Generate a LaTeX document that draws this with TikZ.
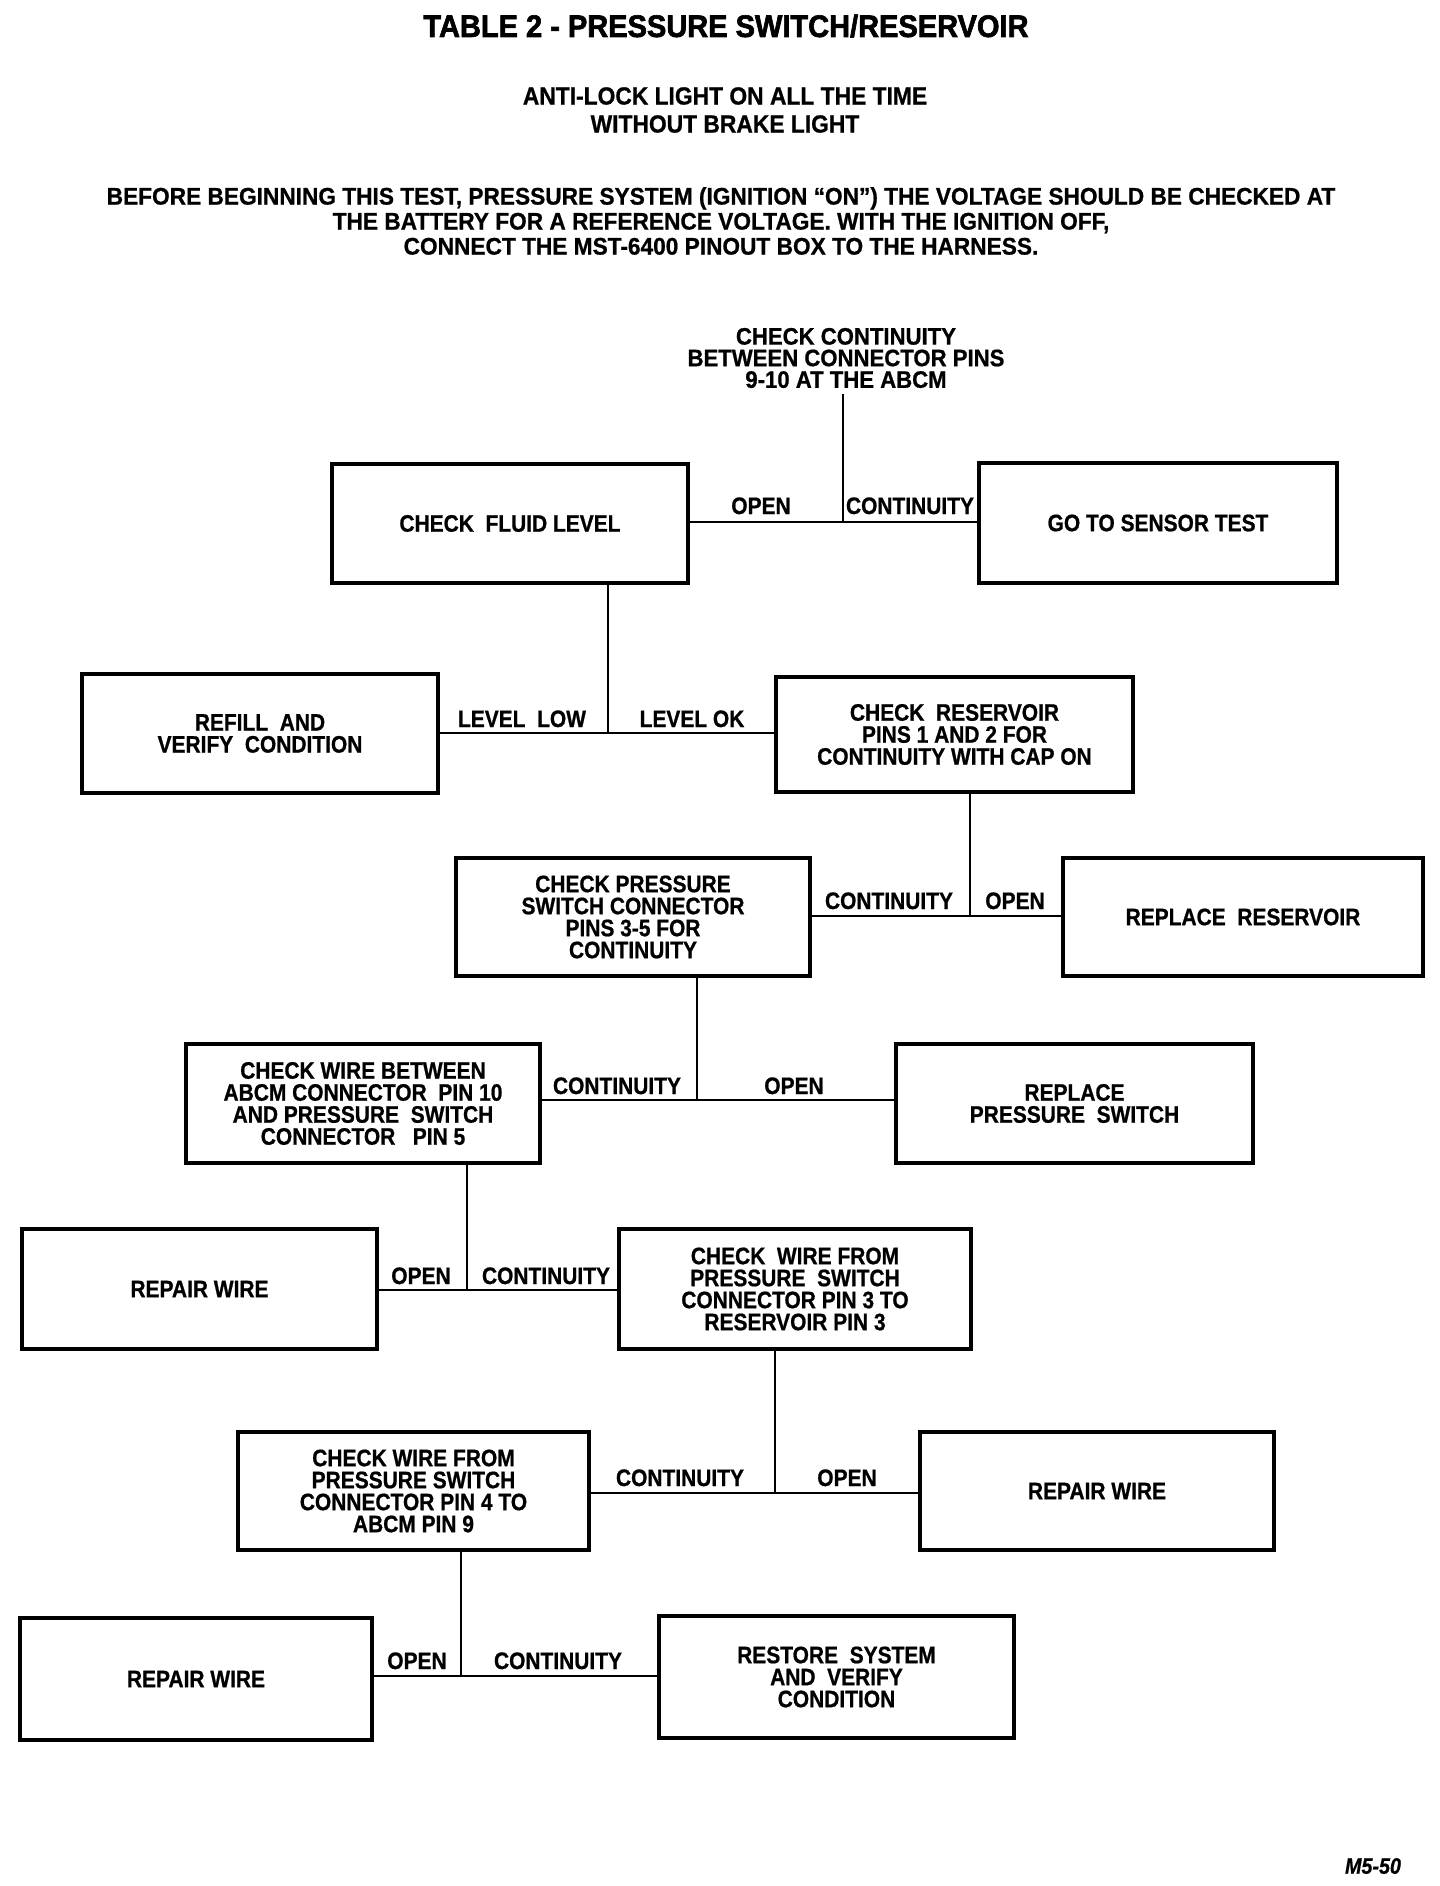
\documentclass[tikz,border=0pt]{standalone}
\usepackage{fontspec}
\setmainfont{Liberation Sans}[FakeStretch=0.88,FakeBold=0.8]
\newfontfamily\titlefont{Liberation Sans}[FakeStretch=0.93,FakeBold=2]
\newfontfamily\subfont{Liberation Sans}[FakeStretch=0.92,FakeBold=0.8]
\newfontfamily\parafont{Liberation Sans}[FakeStretch=0.945,FakeBold=0.8]
\newfontfamily\topfont{Liberation Sans}[FakeStretch=0.93,FakeBold=0.8]
\newcommand\boxfont{\fontsize{11.9}{11}\selectfont\bfseries}
\begin{document}
\begin{tikzpicture}[x=0.5pt,y=-0.5pt,
  box/.style={draw, line width=2pt, align=center, font=\boxfont, inner sep=0pt},
  lbl/.style={font=\boxfont, anchor=base, inner sep=0pt},
  wire/.style={line width=1.3pt},
  head/.style={align=center, inner sep=0pt}]
\useasboundingbox (0,0) rectangle (1440,1886);
% headings
\node[head, font=\titlefont\fontsize{15.6}{16}\selectfont\bfseries] (title) at (726,26) {TABLE 2 - PRESSURE SWITCH/RESERVOIR};
\node[head, font=\subfont\fontsize{12.4}{14}\selectfont\bfseries] (sub) at (725,110) {ANTI-LOCK LIGHT ON ALL THE TIME\\WITHOUT BRAKE LIGHT};
\node[head, font=\parafont\fontsize{12}{12.5}\selectfont\bfseries] (para) at (721,221) {BEFORE BEGINNING THIS TEST, PRESSURE SYSTEM (IGNITION “ON”) THE VOLTAGE SHOULD BE CHECKED AT\\THE BATTERY FOR A REFERENCE VOLTAGE. WITH THE IGNITION OFF,\\CONNECT THE MST-6400 PINOUT BOX TO THE HARNESS.};
\node[head, font=\fontsize{11.2}{12}\selectfont\bfseries\itshape] (code) at (1373,1866) {M5-50};
% start text
\node[align=center, font=\topfont\fontsize{11.9}{10.8}\selectfont\bfseries, inner sep=3pt] (q0) at (846,358) {CHECK CONTINUITY\\BETWEEN CONNECTOR PINS\\9-10 AT THE ABCM};
% boxes
\node[box, minimum width=178pt, minimum height=59.5pt] (fluid) at (510,523.5) {CHECK\ \ FLUID LEVEL};
\node[box, minimum width=179pt, minimum height=60pt] (sensor) at (1158,523) {GO TO SENSOR TEST};
\node[box, minimum width=178pt, minimum height=59.5pt] (refill) at (260,733.5) {REFILL\ \ AND\\VERIFY\ \ CONDITION};
\node[box, minimum width=178.5pt, minimum height=57.5pt] (reschk) at (954.5,734.5) {CHECK\ \ RESERVOIR\\PINS 1 AND 2 FOR\\CONTINUITY WITH CAP ON};
\node[box, minimum width=177pt, minimum height=59pt] (press) at (633,917) {CHECK PRESSURE\\SWITCH CONNECTOR\\PINS 3-5 FOR\\CONTINUITY};
\node[box, minimum width=180pt, minimum height=59pt] (repres) at (1243,917) {REPLACE\ \ RESERVOIR};
\node[box, minimum width=177pt, minimum height=59.5pt] (wirebet) at (363,1103.5) {CHECK WIRE BETWEEN\\ABCM CONNECTOR\ \ PIN 10\\AND PRESSURE\ \ SWITCH\\CONNECTOR\ \ \ PIN 5};
\node[box, minimum width=178.5pt, minimum height=59.5pt] (reppsw) at (1074.5,1103.5) {REPLACE\\PRESSURE\ \ SWITCH};
\node[box, minimum width=177.5pt, minimum height=60pt] (rwa) at (199.5,1289) {REPAIR WIRE};
\node[box, minimum width=176pt, minimum height=60pt] (pinc) at (795,1289) {CHECK\ \ WIRE FROM\\PRESSURE\ \ SWITCH\\CONNECTOR PIN 3 TO\\RESERVOIR PIN 3};
\node[box, minimum width=175.5pt, minimum height=59pt] (pind) at (413.5,1491) {CHECK WIRE FROM\\PRESSURE SWITCH\\CONNECTOR PIN 4 TO\\ABCM PIN 9};
\node[box, minimum width=177pt, minimum height=59pt] (rwb) at (1097,1491) {REPAIR WIRE};
\node[box, minimum width=176pt, minimum height=61pt] (rwc) at (196,1679) {REPAIR WIRE};
\node[box, minimum width=177.5pt, minimum height=61pt] (restore) at (836.5,1677) {RESTORE\ \ SYSTEM\\AND\ \ VERIFY\\CONDITION};
% junctions
\coordinate (j1) at (843,522);
\coordinate (j2) at (608,733);
\coordinate (j3) at (970,916);
\coordinate (j4) at (697,1100);
\coordinate (j5) at (467,1290);
\coordinate (j6) at (775,1493);
\coordinate (j7) at (461,1676);
% connectors
\draw[wire] (q0.south -| j1) -- (j1);
\draw[wire] (fluid.east |- j1) -- (sensor.west |- j1);
\draw[wire] (fluid.south -| j2) -- (j2);
\draw[wire] (refill.east |- j2) -- (reschk.west |- j2);
\draw[wire] (reschk.south -| j3) -- (j3);
\draw[wire] (press.east |- j3) -- (repres.west |- j3);
\draw[wire] (press.south -| j4) -- (j4);
\draw[wire] (wirebet.east |- j4) -- (reppsw.west |- j4);
\draw[wire] (wirebet.south -| j5) -- (j5);
\draw[wire] (rwa.east |- j5) -- (pinc.west |- j5);
\draw[wire] (pinc.south -| j6) -- (j6);
\draw[wire] (pind.east |- j6) -- (rwb.west |- j6);
\draw[wire] (pind.south -| j7) -- (j7);
\draw[wire] (rwc.east |- j7) -- (restore.west |- j7);
% labels
\node[lbl] (l1a) at (761,514) {OPEN};
\node[lbl] (l1b) at (910,514) {CONTINUITY};
\node[lbl] (l2a) at (522,727) {LEVEL\ \ LOW};
\node[lbl] (l2b) at (692,727) {LEVEL OK};
\node[lbl] (l3a) at (889,909) {CONTINUITY};
\node[lbl] (l3b) at (1015,909) {OPEN};
\node[lbl] (l4a) at (617,1094) {CONTINUITY};
\node[lbl] (l4b) at (794,1094) {OPEN};
\node[lbl] (l5a) at (421,1284) {OPEN};
\node[lbl] (l5b) at (546,1284) {CONTINUITY};
\node[lbl] (l6a) at (680,1486) {CONTINUITY};
\node[lbl] (l6b) at (847,1486) {OPEN};
\node[lbl] (l7a) at (417,1669) {OPEN};
\node[lbl] (l7b) at (558,1669) {CONTINUITY};
\end{tikzpicture}
\end{document}
